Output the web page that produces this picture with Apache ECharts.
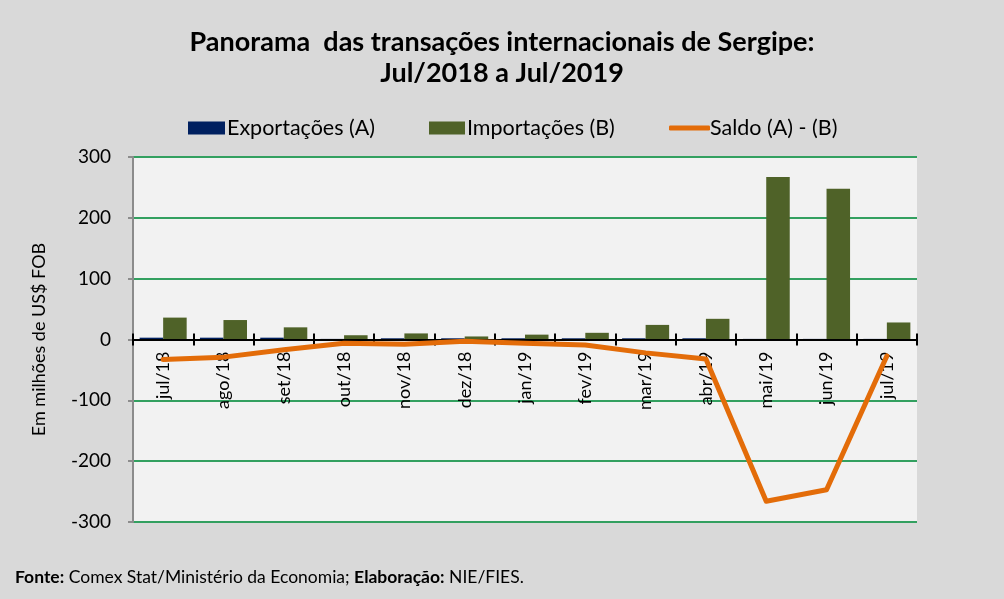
<!DOCTYPE html>
<html>
<head>
<meta charset="utf-8">
<script src="https://cdn.jsdelivr.net/npm/echarts@6/dist/echarts.min.js"></script>
<style>
    html, body {
        margin: 0;
        padding: 0;
        background: #d9d9d9;
    }

    #main {
        width: 1004px;
        height: 599px;
    }
</style>
</head>
<body>
<div id="main"></div>
<script>
    // dados (milhões de US$ FOB)
    var meses = ['jul/18', 'ago/18', 'set/18', 'out/18', 'nov/18', 'dez/18', 'jan/19',
        'fev/19', 'mar/19', 'abr/19', 'mai/19', 'jun/19', 'jul/19'];
    var exportacoes = [3, 3, 3, 1, 2, 2, 2, 2, 2, 2, 1, 1, 1];
    var importacoes = [36, 32, 20, 7, 10, 5, 8, 11, 24, 34, 267, 248, 28];
    var saldo = [-33, -29, -17, -6, -8, -3, -6, -9, -22, -32, -266, -247, -27];
    var yTicks = [-300, -200, -100, 0, 100, 200, 300];

    var fonte = 'Lato, "Open Sans", sans-serif';

    var myChart = echarts.init(document.getElementById('main'));

    // estilo comum das legendas
    function legenda(left, nome, w, h, icon, pad) {
        return {
            left: left,
            top: 112,
            itemWidth: w,
            itemHeight: h,
            icon: icon,
            textStyle: {fontFamily: fonte, fontSize: 21.5, color: '#000', padding: [0, 0, 0, pad]},
            data: [nome]
        };
    }

    var option = {
        backgroundColor: '#d9d9d9',
        textStyle: {fontFamily: fonte, color: '#000'},
        title: {
            text: 'Panorama  das transações internacionais de Sergipe:\nJul/2018 a Jul/2019',
            left: 'center',
            top: 22,
            textStyle: {
                fontFamily: fonte,
                fontSize: 27,
                fontWeight: 'bold',
                color: '#000',
                lineHeight: 31
            }
        },
        legend: [
            legenda(183, 'Exportações (A)', 37, 13, 'rect', -3),
            legenda(424, 'Importações (B)', 36, 13, 'rect', -3),
            legenda(664, 'Saldo (A) - (B)', 41, 5, 'roundRect', -5)
        ],
        grid: {
            left: 133,
            right: 87,
            top: 157,
            bottom: 77,
            show: true,
            backgroundColor: '#f2f2f2',
            borderWidth: 0
        },
        xAxis: [{
            type: 'category',
            data: meses,
            position: 'bottom',
            offset: -182.5,
            axisLine: {onZero: false, lineStyle: {color: '#000', width: 2}},
            axisTick: {show: true, length: 6, lineStyle: {color: '#000', width: 2}},
            axisLabel: {
                rotate: 90,
                fontFamily: fonte,
                fontSize: 18,
                color: '#000',
                margin: 12
            },
            z: 5
        }, {
            // só para os traços acima do eixo
            type: 'category',
            data: meses,
            position: 'top',
            offset: -182.5,
            axisLine: {show: false, onZero: false},
            axisTick: {show: true, length: 6, lineStyle: {color: '#000', width: 2}},
            axisLabel: {show: false},
            z: 5
        }],
        yAxis: {
            type: 'value',
            min: yTicks[0],
            max: yTicks[yTicks.length - 1],
            interval: 100,
            name: 'Em milhões de US$ FOB',
            nameLocation: 'middle',
            nameGap: 85,
            nameTextStyle: {fontFamily: fonte, fontSize: 18, color: '#000'},
            axisLine: {show: true, lineStyle: {color: '#8c8c8c', width: 2}},
            axisTick: {show: true, length: 5, lineStyle: {color: '#8c8c8c', width: 2}},
            axisLabel: {fontFamily: fonte, fontSize: 19, color: '#000', margin: 22},
            splitLine: {lineStyle: {color: '#33a060', width: 2}}
        },
        series: [{
            name: 'Exportações (A)',
            type: 'bar',
            data: exportacoes,
            barGap: '0%',
            barCategoryGap: '22%',
            itemStyle: {color: '#002060'}
        }, {
            name: 'Importações (B)',
            type: 'bar',
            data: importacoes,
            itemStyle: {color: '#4f6228'}
        }, {
            name: 'Saldo (A) - (B)',
            type: 'line',
            data: saldo,
            symbol: 'none',
            lineStyle: {color: '#e36c09', width: 5, join: 'round', cap: 'round'},
            itemStyle: {color: '#e36c09'},
            z: 10
        }],
        graphic: [{
            type: 'text',
            left: 15,
            top: 568,
            style: {
                text: '{b|Fonte:} Comex Stat/Ministério da Economia; {b|Elaboração:} NIE/FIES.',
                fontFamily: fonte,
                fontSize: 17.5,
                fill: '#000',
                rich: {
                    b: {fontFamily: fonte, fontSize: 17.5, fontWeight: 'bold', fill: '#000'}
                }
            }
        }]
    };

    myChart.setOption(option);
</script>
</body>
</html>
